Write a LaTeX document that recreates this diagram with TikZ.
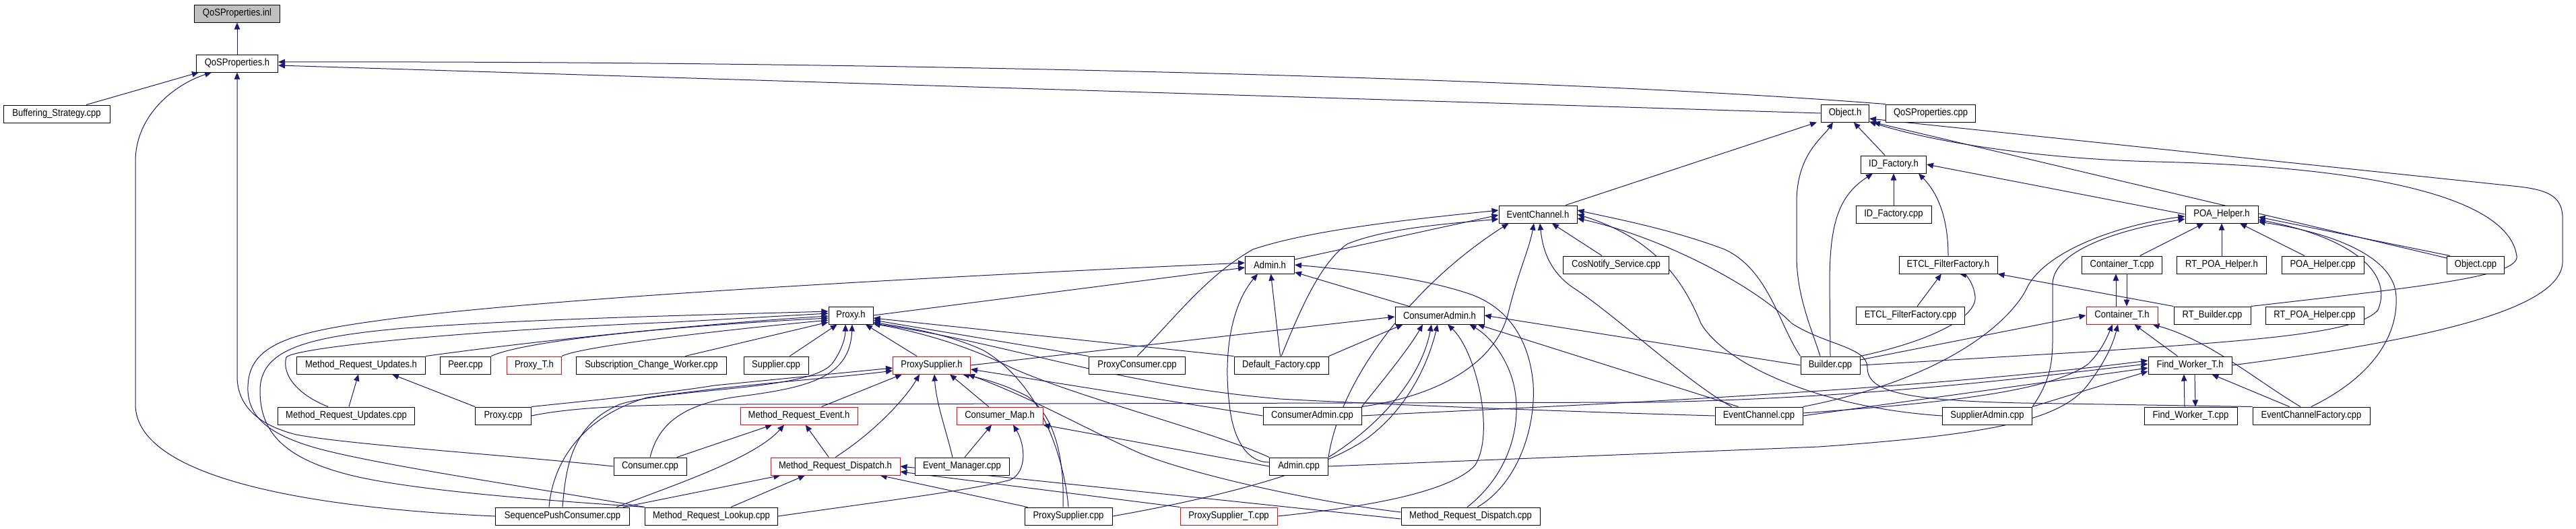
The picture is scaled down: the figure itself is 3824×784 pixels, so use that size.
\documentclass[tikz,border=0pt]{standalone}
\usepackage{fontspec}
\setmainfont{Liberation Sans}[FakeStretch=0.88]
\usetikzlibrary{arrows.meta,calc}
\definecolor{edgecol}{HTML}{191970}
\definecolor{docgray}{HTML}{BFBFBF}
\pgfdeclarelayer{backdrop}
\pgfdeclarelayer{bg}
\pgfsetlayers{backdrop,bg,main}
\begin{document}
\begin{tikzpicture}[x=0.5pt,y=-0.5pt,
  box/.style={draw=black,line width=0.5pt,fill=white,rectangle,minimum height=13pt,inner sep=0pt,font=\fontsize{7.4}{8.5}\selectfont},
  bw/.style={minimum width=#1*0.5pt},
  redbox/.style={draw=red},
  e/.style={draw=edgecol,line width=0.5pt,-{Triangle[length=5pt,width=4.2pt]}}]
\begin{pgfonlayer}{backdrop}
\fill[white] (0,0) rectangle (3824,784);
\end{pgfonlayer}
\useasboundingbox (0,0) rectangle (3824,784);
% nodes
\node[box,bw=127,fill=docgray] (inl) at (352,20) {QoSProperties.inl};
\node[box,bw=121] (qosh) at (352,94) {QoSProperties.h};
\node[box,bw=158] (buff) at (84,169) {Buffering\_Strategy.cpp};
\node[box,bw=71] (objh) at (2739,168) {Object.h};
\node[box,bw=133] (qoscpp) at (2866,168) {QoSProperties.cpp};
\node[box,bw=97] (idfh) at (2811,244) {ID\_Factory.h};
\node[box,bw=112] (idfcpp) at (2811,318) {ID\_Factory.cpp};
\node[box,bw=108] (poah) at (3298,318) {POA\_Helper.h};
\node[box,bw=116] (ech) at (2283,318) {EventChannel.h};
\node[box,bw=73] (adminh) at (1885,393) {Admin.h};
\node[box,bw=157] (cosn) at (2399,393) {CosNotify\_Service.cpp};
\node[box,bw=146] (etclh) at (2892,393) {ETCL\_FilterFactory.h};
\node[box,bw=119] (ctcpp) at (3150,393) {Container\_T.cpp};
\node[box,bw=133] (rtpoah) at (3298,393) {RT\_POA\_Helper.h};
\node[box,bw=122] (poacpp) at (3448,393) {POA\_Helper.cpp};
\node[box,bw=85] (objcpp) at (3675,393) {Object.cpp};
\node[box,bw=66] (proxyh) at (1263,468) {Proxy.h};
\node[box,bw=132] (cah) at (2137,468) {ConsumerAdmin.h};
\node[box,bw=161] (etclcpp) at (2836,468) {ETCL\_FilterFactory.cpp};
\node[box,bw=106,redbox] (cth) at (3150,468) {Container\_T.h};
\node[box,bw=114] (rtb) at (3284,468) {RT\_Builder.cpp};
\node[box,bw=146] (rtpoacpp) at (3436,468) {RT\_POA\_Helper.cpp};
\node[box,bw=191] (mruh) at (536,542) {Method\_Request\_Updates.h};
\node[box,bw=75] (peer) at (691,542) {Peer.cpp};
\node[box,bw=81,redbox] (proxyt) at (793,542) {Proxy\_T.h};
\node[box,bw=223] (scw) at (967,542) {Subscription\_Change\_Worker.cpp};
\node[box,bw=96] (supcpp) at (1152,542) {Supplier.cpp};
\node[box,bw=115,redbox] (psh) at (1383,542) {ProxySupplier.h};
\node[box,bw=143] (pccpp) at (1688,542) {ProxyConsumer.cpp};
\node[box,bw=140] (deff) at (1902,542) {Default\_Factory.cpp};
\node[box,bw=88] (builder) at (2717,542) {Builder.cpp};
\node[box,bw=124] (fwth) at (3251,542) {Find\_Worker\_T.h};
\node[box,bw=203] (mrucpp) at (514,617) {Method\_Request\_Updates.cpp};
\node[box,bw=83] (proxycpp) at (747,617) {Proxy.cpp};
\node[box,bw=174,redbox] (mreh) at (1186,617) {Method\_Request\_Event.h};
\node[box,bw=128,redbox] (cmh) at (1484,617) {Consumer\_Map.h};
\node[box,bw=146] (cacpp) at (1948,617) {ConsumerAdmin.cpp};
\node[box,bw=130] (eccpp) at (2611,617) {EventChannel.cpp};
\node[box,bw=133] (sacpp) at (2950,617) {SupplierAdmin.cpp};
\node[box,bw=138] (fwtcpp) at (3252,617) {Find\_Worker\_T.cpp};
\node[box,bw=174] (ecf) at (3431,617) {EventChannelFactory.cpp};
\node[box,bw=108] (consumer) at (965,692) {Consumer.cpp};
\node[box,bw=192,redbox] (mrdh) at (1240,692) {Method\_Request\_Dispatch.h};
\node[box,bw=140] (emcpp) at (1428,692) {Event\_Manager.cpp};
\node[box,bw=87] (admincpp) at (1928,692) {Admin.cpp};
\node[box,bw=199] (spc) at (835,766) {SequencePushConsumer.cpp};
\node[box,bw=197] (mrlcpp) at (1056,766) {Method\_Request\_Lookup.cpp};
\node[box,bw=130] (pscpp) at (1586,766) {ProxySupplier.cpp};
\node[box,bw=144,redbox] (pstcpp) at (1824,766) {ProxySupplier\_T.cpp};
\node[box,bw=206] (mrdcpp) at (2183,766) {Method\_Request\_Dispatch.cpp};
\begin{pgfonlayer}{bg}
% QoSProperties
\draw[e] (qosh) -- (inl);
\draw[e] ($(buff.north)+(44,0)$) -- ($(qosh.south)+(-57,0)$);
\draw[e] (objh.west) -- ($(qosh.east)+(0,3)$);
\draw[e] (qoscpp.north west) .. controls (2300,115) and (1300,90) .. ($(qosh.east)+(0,-2)$);
\draw[e] (spc.west) .. controls (420,752) and (201,700) .. (201,600) -- (201,240) .. controls (201,170) and (260,125) .. ($(qosh.south)+(-38,0)$);
\draw[e] (consumer.west) .. controls (750,675) and (520,660) .. (440,645) .. controls (380,630) and (353,600) .. (352,560) -- (qosh.south);
% Object.h
\draw[e] (ech) -- ($(objh.south west)+(-6,0)$);
\draw[e] ($(builder.north)+(-15,0)$) .. controls (2690,490) and (2667,440) .. (2667,380) -- (2667,300) .. controls (2667,230) and (2705,205) .. ($(objh.south)+(-18,0)$);
\draw[e] (idfh) -- (objh);
\draw[e] (objcpp) -- ($(objh.south east)+(6,0)$);
\draw[e] (rtb.north east) .. controls (3600,425) and (3740,410) .. (3736,380) .. controls (3725,300) and (3550,248) .. (3200,240) .. controls (3000,235) and (2850,205) .. ($(objh.south east)+(0,-1)$);
\draw[e] (fwth.east) .. controls (3600,505) and (3800,460) .. (3804,390) -- (3804,320) .. controls (3802,290) and (3780,282) .. (3740,277) -- ($(objh.east)+(0,8)$);
% ID_Factory.h
\draw[e] (idfcpp) -- (idfh);
\draw[e] (poah.west) -- (idfh.east);
\draw[e] (etclh.north) .. controls (2892,330) and (2880,290) .. ($(idfh.south east)+(-12,0)$);
\draw[e] (builder.north) -- (2716,420) .. controls (2716,330) and (2730,290) .. ($(idfh.south west)+(18,0)$);
% POA_Helper.h
\draw[e] (ctcpp) -- (poah);
\draw[e] (rtpoah) -- (poah);
\draw[e] (poacpp) -- (poah);
\draw[e] ($(objcpp.north west)+(5,0)$) -- ($(poah.east)+(0,4)$);
\draw[e] (ecf.north) .. controls (3520,560) and (3560,500) .. (3557,440) .. controls (3555,380) and (3460,345) .. ($(poah.east)+(0,11)$);
\draw[e] (builder.east) -- (3100,522) .. controls (3350,505) and (3500,495) .. (3530,460) .. controls (3555,400) and (3480,350) .. ($(poah.east)+(0,8)$);
\draw[e] (sacpp.north east) .. controls (3040,570) and (3047,545) .. (3047,505) -- (3047,420) .. controls (3050,370) and (3150,340) .. ($(poah.west)+(0,7)$);
\draw[e] (eccpp.north east) .. controls (2900,560) and (2990,470) .. (3010,425) .. controls (3040,370) and (3150,333) .. ($(poah.west)+(0,3)$);
% Container_T.h
\draw[e] ($(cth.north)+(-9,0)$) -- ($(ctcpp.south)+(-9,0)$);
\draw[e] ($(ctcpp.south)+(7,0)$) -- ($(cth.north)+(7,0)$);
\draw[e] ($(builder.east)+(0,-8)$) -- (cth.west);
\draw[e] (fwth) -- (cth);
\draw[e] ($(ecf.north)+(-16,0)$) .. controls (3350,565) and (3280,505) .. ($(cth.south east)+(-8,0)$);
\draw[e] (admincpp.east) -- (2700,663) .. controls (2950,645) and (3060,625) .. (3100,570) .. controls (3130,530) and (3138,505) .. ($(cth.south)+(-6,0)$);
\draw[e] ($(eccpp.east)+(0,-4)$) .. controls (2850,600) and (3040,585) .. (3100,540) .. controls (3120,520) and (3128,500) .. ($(cth.south)+(-14,0)$);
% Find_Worker_T.h
\draw[e] ($(fwtcpp.north)+(-9,0)$) -- ($(fwth.south)+(-9,0)$);
\draw[e] ($(fwth.south)+(7,0)$) -- ($(fwtcpp.north)+(7,0)$);
\draw[e] (ecf) -- (fwth);
\draw[e] (eccpp.east) -- ($(fwth.west)+(0,4)$);
\draw[e] (sacpp.north east) -- ($(fwth.west)+(0,9)$);
\draw[e] (proxycpp.east) .. controls (850,604) and (950,600) .. (1100,600) -- (2450,597) .. controls (2800,590) and (3050,555) .. ($(fwth.west)+(0,-2)$);
\draw[e] (cacpp.east) .. controls (2200,607) and (2800,585) .. ($(fwth.west)+(0,-7)$);
% EventChannel.h
\draw[e] (pccpp.north) .. controls (1746,470) and (1790,410) .. (1860,370) .. controls (1950,340) and (2100,325) .. ($(ech.west)+(0,-6)$);
\draw[e] ($(adminh.east)+(0,-8)$) -- ($(ech.west)+(0,1)$);
\draw[e] (deff.north) .. controls (1930,460) and (1960,390) .. (2000,362) .. controls (2060,338) and (2150,332) .. ($(ech.west)+(0,7)$);
\draw[e] (admincpp.north east) .. controls (1990,560) and (2100,420) .. ($(ech.south west)+(15,0)$);
\draw[e] (cacpp.north east) .. controls (2150,585) and (2225,530) .. (2240,460) .. controls (2255,400) and (2270,370) .. ($(ech.south)+(-6,0)$);
\draw[e] ($(eccpp.north west)+(25,0)$) .. controls (2505,567) and (2400,470) .. (2340,430) .. controls (2300,405) and (2290,370) .. ($(ech.south)+(3,0)$);
\draw[e] (cosn) -- (ech);
\draw[e] (builder.north west) .. controls (2640,480) and (2625,400) .. (2560,370) .. controls (2480,340) and (2400,325) .. ($(ech.east)+(0,-6)$);
\draw[e] (sacpp.west) .. controls (2700,605) and (2560,540) .. (2525,480) .. controls (2500,420) and (2460,355) .. ($(ech.east)+(0,0)$);
\draw[e] (ecf.north west) -- (3000,598) .. controls (2820,594) and (2772,580) .. (2772,545) .. controls (2772,515) and (2710,512) .. (2660,480) .. controls (2600,420) and (2460,350) .. ($(ech.east)+(0,6)$);
% Admin.h
\draw[e] (proxyh.east) -- ($(adminh.west)+(0,4)$);
\draw[e] (mrlcpp.north west) .. controls (800,725) and (560,690) .. (470,665) .. controls (400,645) and (370,620) .. (368,580) .. controls (366,515) and (420,495) .. (560,476) .. controls (800,442) and (1400,410) .. ($(adminh.west)+(0,-3)$);
\draw[e] ($(admincpp.west)+(0,-6)$) .. controls (1850,686) and (1830,650) .. (1825,600) .. controls (1815,520) and (1830,450) .. ($(adminh.south)+(-18,0)$);
\draw[e] (deff) -- (adminh);
\draw[e] ($(mrdcpp.north)+(10,0)$) .. controls (2250,720) and (2280,640) .. (2276,570) .. controls (2270,500) and (2235,452) .. (2175,434) .. controls (2100,410) and (2000,400) .. (adminh.east);
\draw[e] (cah) -- (adminh);
% ConsumerAdmin.h
\draw[e] (psh.east) -- ($(cah.west)+(0,2)$);
\draw[e] ($(deff.north east)+(0,0)$) -- ($(cah.south west)+(12,0)$);
\draw[e] (cacpp.north east) .. controls (2040,580) and (2090,520) .. ($(cah.south)+(-25,0)$);
\draw[e] (admincpp.north east) .. controls (2050,630) and (2110,560) .. ($(cah.south)+(-12,0)$);
\draw[e] (pscpp.east) .. controls (1800,740) and (1960,700) .. (2030,650) .. controls (2090,605) and (2120,540) .. ($(cah.south)+(-3,0)$);
\draw[e] (pstcpp.east) .. controls (2000,755) and (2150,735) .. (2190,690) .. controls (2220,640) and (2190,520) .. ($(cah.south)+(12,0)$);
\draw[e] ($(mrdcpp.north)+(-5,0)$) .. controls (2245,700) and (2262,620) .. (2245,563) .. controls (2232,520) and (2205,495) .. ($(cah.south east)+(-22,0)$);
\draw[e] ($(eccpp.north west)+(35,0)$) -- ($(cah.south east)+(-10,0)$);
\draw[e] (builder.west) -- (cah.east);
% Proxy.h
\draw[e] (psh) -- (proxyh);
\draw[e] (supcpp) -- (proxyh);
\draw[e] ($(scw.north)+(50,0)$) -- ($(proxyh.west)+(0,10)$);
\draw[e] (proxyt.north east) .. controls (860,515) and (1050,492) .. ($(proxyh.west)+(0,7)$);
\draw[e] (peer.north east) .. controls (780,505) and (1000,484) .. ($(proxyh.west)+(0,4)$);
\draw[e] (mruh.north east) .. controls (800,505) and (1050,480) .. ($(proxyh.west)+(0,1)$);
\draw[e] ($(mrucpp.north)+(-27,0)$) .. controls (440,585) and (418,555) .. (425,530) .. controls (440,515) and (700,490) .. (1000,478) -- ($(proxyh.west)+(0,-3)$);
\draw[e] (mrlcpp.north west) .. controls (850,745) and (620,730) .. (520,705) .. controls (420,680) and (386,640) .. (386,580) .. controls (386,520) and (450,500) .. (600,487) .. controls (800,472) and (1100,466) .. ($(proxyh.west)+(0,-6)$);
\draw[e] (spc.north) .. controls (840,690) and (850,630) .. (920,600) .. controls (1000,575) and (1200,580) .. (1235,540) .. controls (1250,520) and (1255,500) .. ($(proxyh.south)+(-8,0)$);
\draw[e] (consumer.north) .. controls (975,640) and (1000,600) .. (1100,588) .. controls (1200,575) and (1262,560) .. ($(proxyh.south)+(2,0)$);
\draw[e] (deff.north west) -- ($(proxyh.east)+(0,4)$);
\draw[e] (pccpp.north west) -- ($(proxyh.east)+(0,7)$);
\draw[e] (pscpp.north) .. controls (1580,680) and (1545,570) .. (1460,520) .. controls (1400,492) and (1330,484) .. ($(proxyh.east)+(0,10)$);
\draw[e] (eccpp.west) .. controls (2300,610) and (2050,600) .. (1900,592) .. controls (1650,570) and (1500,510) .. ($(proxyh.east)+(0,12)$);
\draw[e] (admincpp.north west) .. controls (1800,640) and (1600,590) .. (1500,545) .. controls (1420,505) and (1340,488) .. ($(proxyh.south east)+(0,-1)$);
% ProxySupplier.h
\draw[e] (mreh) -- ($(psh.south)+(-44,0)$);
\draw[e] (mrdh.north) .. controls (1300,640) and (1345,590) .. ($(psh.south)+(-18,0)$);
\draw[e] ($(emcpp.north)+(-14,0)$) .. controls (1405,640) and (1390,600) .. ($(psh.south)+(4,0)$);
\draw[e] (cmh) -- ($(psh.south)+(27,0)$);
\draw[e] (cacpp.west) -- ($(psh.east)+(0,6)$);
\draw[e] ($(mrdcpp.west)+(0,-6)$) .. controls (1950,745) and (1750,700) .. (1682,668) .. controls (1600,630) and (1530,590) .. ($(psh.south east)+(-4,0)$);
\draw[e] ($(pscpp.north)+(-8,0)$) .. controls (1580,690) and (1570,620) .. (1525,588) .. controls (1490,570) and (1460,562) .. ($(psh.south east)+(-12,0)$);
\draw[e] ($(spc.north)+(-20,0)$) .. controls (820,690) and (860,620) .. (960,590) .. controls (1100,570) and (1250,560) .. ($(psh.west)+(0,8)$);
\draw[e] (proxycpp.north east) .. controls (900,592) and (1000,582) .. (1060,572) -- ($(psh.west)+(0,4)$);
% Consumer_Map.h
\draw[e] ($(emcpp.north)+(4,0)$) -- ($(cmh.south)+(-12,0)$);
\draw[e] (admincpp.west) -- (cmh.south east);
\draw[e] (mrlcpp.east) .. controls (1300,745) and (1440,728) .. (1500,712) .. controls (1525,700) and (1522,660) .. ($(cmh.south)+(20,0)$);
% Method_Request_Event.h
\draw[e] (consumer) -- (mreh);
\draw[e] ($(spc.north east)+(-20,0)$) .. controls (1000,720) and (1120,680) .. ($(mreh.south)+(-22,0)$);
\draw[e] (mrdh) -- (mreh);
% Method_Request_Dispatch.h
\draw[e] ($(spc.north east)+(-10,0)$) -- ($(mrdh.south west)+(15,0)$);
\draw[e] ($(mrlcpp.north east)+(-70,0)$) -- ($(mrdh.south)+(-45,0)$);
\draw[e] ($(pscpp.north west)+(5,0)$) -- ($(mrdh.south east)+(-30,0)$);
\draw[e] (pstcpp.north west) -- ($(mrdh.east)+(0,8)$);
\draw[e] ($(mrdcpp.west)+(0,4)$) -- (mrdh.east);
% Method_Request_Updates.h
\draw[e] (mrucpp) -- (mruh);
\draw[e] (proxycpp.north west) -- ($(mruh.south east)+(-50,0)$);
% ETCL_FilterFactory.h
\draw[e] (etclcpp) -- (etclh);
\draw[e] (builder.north east) .. controls (2870,505) and (2935,470) .. (2932,440) .. controls (2930,420) and (2918,408) .. ($(etclh.south)+(17,0)$);
\draw[e] (rtb.north west) -- (etclh.south east);
\end{pgfonlayer}
\end{tikzpicture}
\end{document}
